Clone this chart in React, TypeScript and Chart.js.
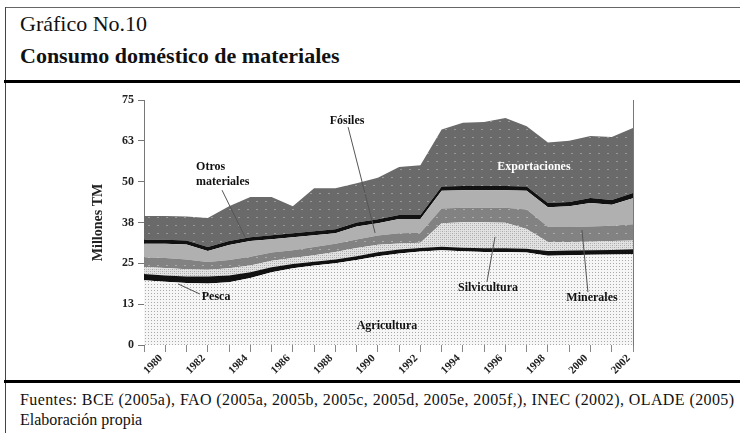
import React, { useEffect, useRef } from 'react';
import { Chart, registerables } from 'chart.js';

Chart.register(...registerables);

const years = ['1980','1981','1982','1983','1984','1985','1986','1987','1988','1989','1990','1991','1992','1993','1994','1995','1996','1997','1998','1999','2000','2001','2002','2003'];

const agricultura = [19.8,19.4,19.0,18.8,19.2,20.5,22.3,23.5,24.3,25.0,26.0,27.2,28.0,28.6,29.0,28.7,28.5,28.5,28.3,27.3,27.5,27.6,27.7,27.8];
const pesca = [1.9,1.9,2.0,2.2,2.1,1.8,1.5,1.3,1.2,1.2,1.2,1.2,1.2,1.1,1.1,1.1,1.1,1.1,1.2,1.5,1.4,1.4,1.4,1.5];
const silvicultura = [2.2,2.3,2.2,2.0,2.2,2.0,2.0,1.8,2.0,2.3,2.5,2.3,1.9,1.6,7.2,7.8,8.0,7.8,6.0,2.7,2.6,2.6,2.7,2.7];
const minerales = [3.0,3.0,3.0,2.4,2.5,2.7,2.5,2.4,2.5,2.5,2.6,2.8,3.1,3.1,4.5,4.4,4.4,4.6,6.0,4.7,4.6,4.7,4.7,5.0];
const fosiles = [4.1,4.4,4.6,3.4,4.6,4.8,4.1,4.0,3.6,3.2,4.0,3.8,4.4,4.2,5.4,5.4,5.4,5.4,5.7,6.0,6.4,7.2,6.4,7.9];
const otros = [1.2,1.2,1.2,1.2,1.2,1.2,1.2,1.2,1.2,1.2,1.2,1.2,1.2,1.2,1.3,1.3,1.3,1.3,1.3,1.3,1.3,1.5,1.5,1.6];
const exportaciones = [7.3,7.3,7.3,8.9,10.7,12.3,11.7,8.3,13.2,12.6,12.0,12.7,14.7,15.2,17.5,19.3,19.6,20.8,18.5,18.5,18.7,19.0,19.3,19.9];

const yTicks = [0, 12.5, 25, 37.5, 50, 62.5, 75];

// annotation texts, positioned in data coordinates (category index, value)
const labelTexts = [
  { text: 'Fósiles', x: 9.55, y: 68.6, align: 'center', color: '#111' },
  { text: 'Otros', x: 2.45, y: 54.5, align: 'left', color: '#111' },
  { text: 'materiales', x: 2.45, y: 49.9, align: 'left', color: '#111' },
  { text: 'Exportaciones', x: 18.34, y: 54.5, align: 'center', color: '#ffffff' },
  { text: 'Pesca', x: 3.39, y: 14.7, align: 'center', color: '#111' },
  { text: 'Agricultura', x: 11.43, y: 5.8, align: 'center', color: '#111' },
  { text: 'Silvicultura', x: 16.18, y: 17.4, align: 'center', color: '#111' },
  { text: 'Minerales', x: 21.07, y: 14.4, align: 'center', color: '#111' },
];
const leaderLines = [
  [9.6, 66.7, 10.87, 34.3],
  [3.67, 47.4, 4.75, 33.1],
  [1.6, 18.7, 2.63, 15.6],
  [16.51, 33.1, 16.13, 19.3],
  [20.6, 35.2, 20.88, 16.2],
];

const SERIF = '"Liberation Serif", "Times New Roman", serif';

function makePattern(ctx: CanvasRenderingContext2D, w: number, h: number, bg: string, dots: Array<[number, number, number, number, string]>) {
  const c = document.createElement('canvas');
  c.width = w;
  c.height = h;
  const g = c.getContext('2d')!;
  g.fillStyle = bg;
  g.fillRect(0, 0, w, h);
  dots.forEach(([x, y, dw, dh, col]) => {
    g.fillStyle = col;
    g.fillRect(x, y, dw, dh);
  });
  return ctx.createPattern(c, 'repeat')!;
}

export default function App() {
  const canvasRef = useRef<HTMLCanvasElement | null>(null);

  useEffect(() => {
    let chart: Chart | null = null;
    let cancelled = false;

    const build = () => {
      if (cancelled || !canvasRef.current) return;
      const canvas = canvasRef.current;
      const ctx = canvas.getContext('2d')!;
      const agriPat = makePattern(ctx, 3, 3, '#f6f6f6', [[1, 1, 1, 1, '#a9a9a9']]);
      const silvPat = makePattern(ctx, 4, 4, '#e2e2e2', [[0, 0, 1, 1, '#a8a8a8'], [2, 2, 1, 1, '#a8a8a8'], [2, 0, 1, 1, '#c2c2c2'], [0, 2, 1, 1, '#c2c2c2']]);
      const minPat = makePattern(ctx, 9, 8, '#828282', [[4, 4, 2, 1, '#ababab']]);
      const expPat = makePattern(ctx, 9, 8, '#6a6a6a', [[4, 4, 2, 1, '#999999']]);

      const common = { borderWidth: 0, borderColor: 'rgba(0,0,0,0)', pointRadius: 0, pointHoverRadius: 0, tension: 0 };

      const annotPlugin = {
        id: 'annots',
        afterDatasetsDraw(ch: any) {
          const { ctx: c, scales } = ch;
          const sx = scales.x;
          const sy = scales.y;
          c.save();
          c.strokeStyle = '#555';
          c.lineWidth = 1;
          leaderLines.forEach(([x1, y1, x2, y2]) => {
            c.beginPath();
            c.moveTo(sx.getPixelForValue(x1), sy.getPixelForValue(y1));
            c.lineTo(sx.getPixelForValue(x2), sy.getPixelForValue(y2));
            c.stroke();
          });
          c.font = 'bold 12px ' + SERIF;
          c.textBaseline = 'middle';
          labelTexts.forEach((l) => {
            c.fillStyle = l.color;
            c.textAlign = l.align as CanvasTextAlign;
            c.fillText(l.text, sx.getPixelForValue(l.x), sy.getPixelForValue(l.y));
          });
          c.restore();
        },
      };

      chart = new Chart(canvas, {
        type: 'line',
        data: {
          labels: years,
          datasets: [
            { label: 'Agricultura', data: agricultura, backgroundColor: agriPat, fill: 'origin', ...common },
            { label: 'Pesca', data: pesca, backgroundColor: '#111111', fill: '-1', ...common },
            { label: 'Silvicultura', data: silvicultura, backgroundColor: silvPat, fill: '-1', ...common },
            { label: 'Minerales', data: minerales, backgroundColor: minPat, fill: '-1', ...common },
            { label: 'Fósiles', data: fosiles, backgroundColor: '#b0b0b0', fill: '-1', ...common },
            { label: 'Otros materiales', data: otros, backgroundColor: '#111111', fill: '-1', ...common },
            { label: 'Exportaciones', data: exportaciones, backgroundColor: expPat, fill: '-1', ...common },
          ] as any,
        },
        options: {
          animation: false,
          responsive: false,
          maintainAspectRatio: false,
          events: [],
          layout: { padding: { left: 88, right: 107, top: 15, bottom: 0 } },
          plugins: { legend: { display: false }, tooltip: { enabled: false } },
          scales: {
            x: {
              type: 'category',
              offset: false,
              afterFit: (s: any) => { s.height = 35; },
              grid: { display: true, drawOnChartArea: false, drawTicks: true, tickLength: 7, color: '#888' },
              border: { display: false },
              ticks: {
                autoSkip: false,
                maxRotation: 45,
                minRotation: 45,
                labelOffset: 17,
                padding: 0,
                color: '#222',
                font: { family: SERIF, size: 11, weight: 'bold' },
                callback: (_v: any, i: number) => (i % 2 === 0 ? years[i] : ''),
              },
            },
            y: {
              stacked: true,
              min: 0,
              max: 75,
              afterFit: (s: any) => { s.width = 56; },
              afterBuildTicks: (s: any) => { s.ticks = yTicks.map((v) => ({ value: v })); },
              grid: { display: true, drawOnChartArea: false, drawTicks: true, tickLength: 6, color: '#777' },
              border: { display: true, color: '#777', dash: [1, 2] },
              ticks: {
                padding: 4,
                color: '#222',
                font: { family: SERIF, size: 12, weight: 'bold' },
                callback: (v: any) => String(Math.round(Number(v))),
              },
              title: { display: true, text: 'Millones TM', color: '#222', padding: { top: 2, bottom: 0 }, font: { family: SERIF, size: 14, weight: 'bold' } },
            },
            y2: {
              position: 'right',
              min: 0,
              max: 75,
              afterFit: (s: any) => { s.width = 0; },
              grid: { display: false, drawTicks: false },
              border: { display: true, color: '#777', dash: [1, 1] },
              ticks: { display: false },
            },
          } as any,
        },
        plugins: [annotPlugin],
      });
    };

    const fontsApi = (document as any).fonts;
    if (fontsApi && fontsApi.load) {
      Promise.all([
        fontsApi.load('bold 12px "Liberation Serif"'),
        fontsApi.load('12px "Liberation Serif"'),
      ]).then(build, build);
    } else {
      build();
    }

    return () => {
      cancelled = true;
      if (chart) chart.destroy();
    };
  }, []);

  return (
    <div style={{ position: 'absolute', left: 0, top: 0, width: 740, height: 433, background: '#fff', fontFamily: SERIF, color: '#111', overflow: 'hidden' }}>
      <div style={{ position: 'absolute', left: 5, top: 7, width: 735, height: 1, background: '#666' }} />
      <div style={{ position: 'absolute', left: 5, top: 7, width: 1, height: 426, background: '#444' }} />
      <div style={{ position: 'absolute', left: 20, top: 12.6, fontSize: 22, lineHeight: '22px', whiteSpace: 'nowrap' }}>Gráfico No.10</div>
      <div style={{ position: 'absolute', left: 20, top: 44.6, fontSize: 22, lineHeight: '22px', fontWeight: 'bold', whiteSpace: 'nowrap' }}>Consumo doméstico de materiales</div>
      <div style={{ position: 'absolute', left: 4, top: 80, width: 736, height: 3, background: '#000' }} />
      <canvas ref={canvasRef} width={740} height={295} style={{ position: 'absolute', left: 0, top: 85, width: 740, height: 295 }} />
      <div style={{ position: 'absolute', left: 4, top: 380, width: 736, height: 2.5, background: '#000' }} />
      <div style={{ position: 'absolute', left: 20, top: 392, fontSize: 16, lineHeight: '16px', letterSpacing: '0.4px', whiteSpace: 'nowrap' }}>Fuentes: BCE (2005a), FAO (2005a, 2005b, 2005c, 2005d, 2005e, 2005f,), INEC (2002), OLADE (2005)</div>
      <div style={{ position: 'absolute', left: 20, top: 412, fontSize: 16, lineHeight: '16px', whiteSpace: 'nowrap' }}>Elaboración propia</div>
    </div>
  );
}
